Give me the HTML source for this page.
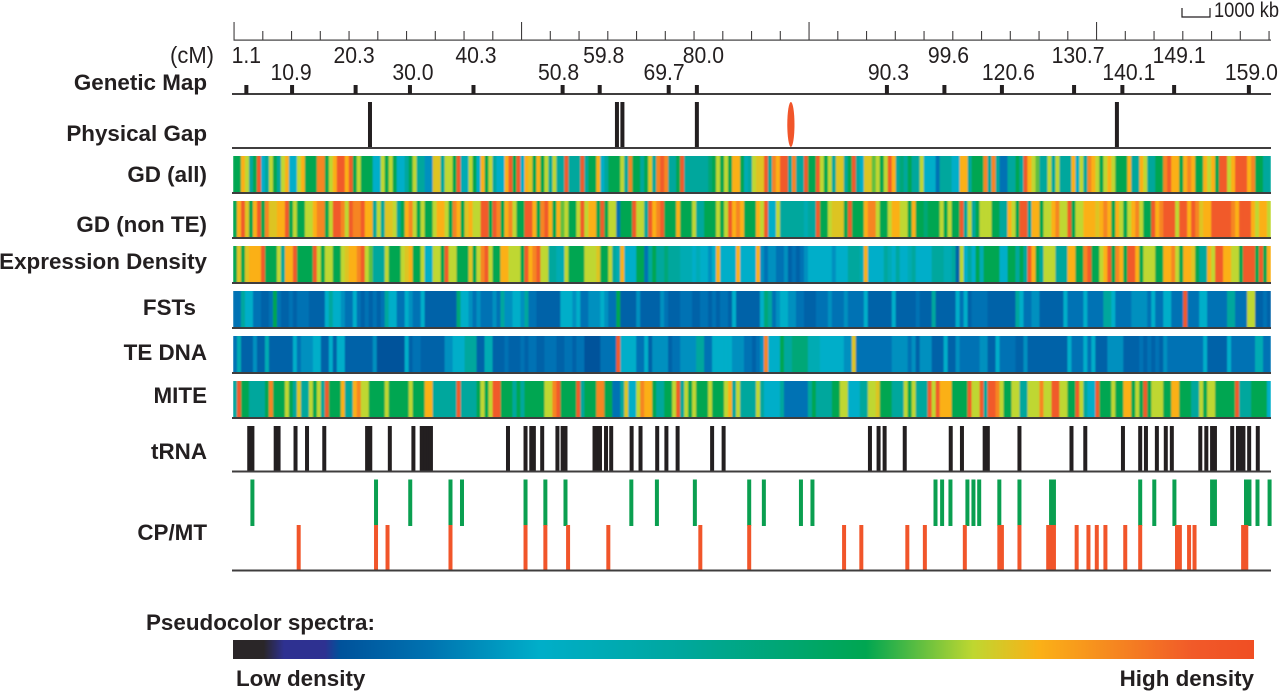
<!DOCTYPE html>
<html lang="en">
<head>
<meta charset="utf-8">
<title>Chromosome feature density map</title>
<style>
html,body{margin:0;padding:0;background:#fff;width:1280px;height:691px;overflow:hidden}
svg{display:block}
text{font-family:"Liberation Sans",Arial,sans-serif;fill:#231f20}
.track-label{font-weight:bold;font-size:22.4px;text-anchor:end}
.legend-text{font-weight:bold;font-size:22.4px}
.num{font-size:23px;text-anchor:middle}
</style>
</head>
<body>
<svg id="chart" xmlns="http://www.w3.org/2000/svg" width="1280" height="691" viewBox="0 0 1280 691">
  <defs>
    <linearGradient id="spectrum" x1="0" x2="1" y1="0" y2="0">
      <stop offset="0" stop-color="#2a2628"/>
      <stop offset="0.03" stop-color="#2a2628"/>
      <stop offset="0.05" stop-color="#2e3191"/>
      <stop offset="0.09" stop-color="#2e3191"/>
      <stop offset="0.105" stop-color="#00529b"/>
      <stop offset="0.19" stop-color="#0072b0"/>
      <stop offset="0.30" stop-color="#00aec9"/>
      <stop offset="0.44" stop-color="#00a79d"/>
      <stop offset="0.62" stop-color="#00a651"/>
      <stop offset="0.725" stop-color="#bfd730"/>
      <stop offset="0.79" stop-color="#fbb017"/>
      <stop offset="0.84" stop-color="#f7941d"/>
      <stop offset="0.94" stop-color="#f15a29"/>
      <stop offset="1" stop-color="#f04e23"/>
    </linearGradient>
    <filter id="soften" x="0" y="0" width="100%" height="100%">
      <feGaussianBlur stdDeviation="0.7 0"/>
    </filter>
  </defs>

  <g id="ruler"></g>
  <g id="scale-bar">
    <path d="M1182 8V17H1210V8" fill="none" stroke="#231f20" stroke-width="1.2"/>
    <text x="1214" y="17" font-size="21.5" textLength="65" lengthAdjust="spacingAndGlyphs">1000 kb</text>
  </g>
  <text x="214" y="63" font-size="23" text-anchor="end" textLength="44" lengthAdjust="spacingAndGlyphs">(cM)</text>

  <g id="genetic-map"></g>
  <g id="physical-gap"></g>
  <g id="heat-tracks"></g>
  <g id="trna"></g>
  <g id="cpmt"></g>

  <g>
    <text class="track-label" x="207" y="90">Genetic Map</text>
    <text class="track-label" x="207" y="141">Physical Gap</text>
    <text class="track-label" x="207" y="182">GD (all)</text>
    <text class="track-label" x="207" y="232">GD (non TE)</text>
    <text class="track-label" x="207" y="269">Expression Density</text>
    <text class="track-label" x="196" y="315">FSTs</text>
    <text class="track-label" x="207" y="360">TE DNA</text>
    <text class="track-label" x="207" y="403">MITE</text>
    <text class="track-label" x="207" y="459">tRNA</text>
    <text class="track-label" x="207" y="540">CP/MT</text>
  </g>

  <g>
    <text class="legend-text" x="146" y="630">Pseudocolor spectra:</text>
    <rect x="233" y="640" width="1021" height="19" fill="url(#spectrum)"/>
    <text class="legend-text" x="236" y="686">Low density</text>
    <text class="legend-text" x="1254" y="686" text-anchor="end">High density</text>
  </g>
</svg>

<script>
/* ---------- data: positions in Mb along the chromosome ---------- */
const rulerTicksMb = [0,1,2,3,4,5,6,7,8,9,10,11,12,13,14,15,16,17,18,19,20,21,22,23,24,25,26,27,28,29,30,31,32,33,34,35,36];
const rulerMajorMb = [0,10,20,30];

const markerLabels = ["1.1","10.9","20.3","30.0","40.3","50.8","59.8","69.7","80.0","90.3","99.6","120.6","130.7","140.1","149.1","159.0"];
const markerMb = [0.43,2.02,4.23,6.12,8.33,11.43,12.72,15.12,16.10,22.71,24.71,26.71,29.22,30.90,32.70,35.30];

const gapMb = [4.73,13.32,13.51,16.10,30.71];
const centromereMb = [19.37];

const trnaMb = [0.53,0.64,1.45,1.55,2.14,2.54,3.14,4.63,4.74,5.42,6.24,6.53,6.66,6.77,6.85,9.53,10.14,10.34,10.43,10.72,11.25,11.43,11.53,12.54,12.64,12.73,12.94,13.12,13.83,14.14,14.72,15.04,15.43,16.63,17.03,22.12,22.42,22.63,23.33,24.93,25.32,26.11,26.22,27.32,29.13,29.61,30.92,31.52,31.72,32.10,32.41,32.62,33.61,33.82,34.02,34.12,34.72,34.92,35.01,35.11,35.31,35.61];

const cpMb = [0.64,4.94,6.13,7.53,7.93,10.14,10.83,11.53,13.82,14.71,16.03,17.92,18.43,19.72,20.12,24.40,24.63,24.92,25.51,25.72,25.92,26.62,27.32,28.42,28.52,31.52,32.01,32.71,34.02,34.12,35.20,35.32,35.60,36.02];
const mtMb = [2.25,4.94,5.34,7.53,10.14,10.83,11.62,13.02,16.22,17.92,21.22,21.82,23.42,24.03,25.42,26.62,26.71,27.32,28.32,28.42,28.52,29.31,29.72,30.01,30.31,31.00,31.52,32.80,32.90,33.22,33.41,35.10,35.21];

/* ---------- data: density level per chromosome bin (0 low - 9 high) ---------- */
const gdAll = [
6,6,8,7,5,6,9,4,5,7, 6,5,7,8,4,4,7,8,6,6, 6,8.5,8.5,6,7,8,9,9,8,9, 6,7,6,6,6,4,4,7,6,7,
6,4,4,5,6,7,5,5,3.5,3.5, 7.5,7.5,5,7,7,6,9,4.5,4.5,7, 6,4,8,6,7,5,4,4,8,9, 6,9,4,8,7.5,6,8,6,7,5,
7,5,5,9,5,5,5,
9,5,6,6,8,4,5,6,6,6, 7,5,8.5,6,6,5,6,7.5,5,8.5, 9,8.5,5,5,6,9,5,5,5,5, 5,5,5.5,6,7,6,7,6,8,8,
6,4.5,5,7,7.5,7.5,9,5,8.5,8, 9,9,5,8.5,5,5,9,6,6,9, 7,6,7,5,7.5,7.5,5,6,9,5, 4,7.5,7.5,6.5,7,6,7,9,8,5,
5.5,5,6,5,5,7,4,4,
4,3,5,5,5,4,4,8,8,5, 6,6,6,8.5,5,8.5,5,3,3,5, 5,6,5,9,8,7,6.5,5,5,7, 5,7,5,5,5,8,4,7,5,8.5,
8,7,6,7,8,7,6,6,6,8, 5,5,8,7,5,5,6,6,8.5,9, 8,8,6,8,8.5,8,6,6,8,7, 8,6,9,9,7,8,9,9,9,8,
8.5,6,6,5,5];

const gdNonTe = [
6,8,9,7.5,6,8,9,6,8.5,7.5, 7.5,8,8,9,6,7,6,6,7,7, 8,8.5,8.5,6,7,9,9,8.5,7,9, 8.5,8.5,9,8,8,5,7,5,7.5,7.5,
7,5,6,8,8.5,7,6,7,6,6, 7,8,8,7,6,8.5,8,6,7.5,8, 7,7,9,9,6,9,8.5,6,8,8.5, 7,6,6,9,9,8,6,8.5,9,8,
6,8,6.5,7,6,6,7,
9,7,8,8,6,9,6,7,7,3, 6,6,6,9,7,7,5,9,8,8.5, 9,6,6,6,8,6,6,6,7,5, 5,6,6,6,7,6,7,9,8,8.5,
8,6,6,6,8,7,9,4,4,7, 5,5,5,5,5,5,4.5,5,5,9, 6,6,7,7.5,7.5,7.5,6,9,6,6, 6,8,8.5,8.5,7,6,6,7,8,8,
7,7,6,8,6,6,5.5,6,
6,6,7,6,7,6,6,9,5,7, 5,6,7,7,7,6,6,5,5,8, 7,6,9,9,5,8,8,6,7,7, 8,8.5,7,7,9,6,7,7,8,8,
8,7.5,8,8.5,8,6,8,7,6,7, 8,8.5,7,6,6,9,8,8.5,9,9, 9,7,9,9,8,9,8.5,7.5,8,8, 9,9,9,9,9,8.5,8,9,9,9,
8,7,8,8,7];

const expressionDensity = [
6,7.5,6,7.5,8,8,8,9,6,6, 6,7,5,8,8,9,6,6,6,6, 9,7,6,7,7,6,6,7,7.5,8, 8,8.5,9,7,6.5,5,5,5,7,6,
6,6,7,7.5,8,6,6,7,4,4, 7,7,6,9,7,7,6,6,6,7.5, 6,7,8.5,9,7,6,6,8,8,7, 7,7,6,9,8,8.5,9,7,7,5,
5,4.5,4.5,7,6,6,6,
6,7,7,7,7.5,6,6,7,5,4.5, 8,4,4,4,6,6,3,5,6,5, 5,5.5,5,5,5,4.5,4.5,4.5,4,4.5, 4,4,3.5,4,8,4,4,4,4,8,
4,4,4,4,8,3.5,3,3.5,3.5,3, 3,3.5,2.5,3,2.5,3,3.5,4,4,4, 4,4,4,3.5,4,4,4,5,5,5, 4.5,8,4,4,4,4,5,4.5,4,5,
4,4,4.5,5,4,4,4,4,
5,5,5,4.5,4.5,5,2.5,7,4,5, 4,6,4.5,6,6,6,6,4,4,6, 6,5,6,5,9,8,6,5,7,7, 7,5,5,5,8,8,6,6,8.5,9,
6,6,7,8,9,6,8.5,8,6,9, 9,8,6,7,7,7,6,6,8,8, 8.5,7,6,8,8,7.5,6,5,5,8, 7,9,9,8,8,7,7,6,9,9,
9,6,9,6,8];

const fsts = [
3,3,5,4,4,3,3,2.5,2.5,3, 6,3,2.5,2.5,3,2.5,3,3,3,2.5, 2.5,2.5,2.5,4,5,4,4,3.5,3,3, 4,3,2.5,3,2.5,3,2.5,3,5,4,
4,3,3,4,3.5,3,3,4,2.5,2.5, 2.5,2.5,2.5,2.5,2.5,2.5,5.5,4,4,3.5, 3,3.5,3,3,3,3.5,3,5,3.5,3.5, 4,4,3.5,5,3,3,2.5,2.5,2.5,2.5,
2.5,2.5,4,4,4,3.5,4,
3,3,3.5,3.5,3.5,4,3.5,3,3,6, 2.5,2.5,2.5,2.5,3.5,2.5,2.5,2.5,2.5,2.5, 3.5,3,2.5,2.5,2.5,3,3,3,2.5,2.5, 3,3,2.5,3,2.5,3,3,2.5,4,2.5,
2.5,2.5,2.5,2.5,2.5,4,5.5,5,3,3.5, 4,4,3.5,3.5,3,3,2.5,2.5,2.5,3, 3,3,3.5,3,3,3,3.5,3,3,3, 3,4,2.5,2.5,2.5,2.5,2.5,2.5,4,2.5,
2.5,2.5,2.5,2.5,3,2.5,2.5,2.5,
5,2.5,2.5,2.5,2.5,2.5,4,3,4,2.5, 3,3,3,3,2.5,2.5,2.5,2.5,2.5,2.5, 2.5,5,4,3,3,3.5,3.5,2.5,2.5,2.5, 2.5,2.5,2.5,4,3,3,3,3,4,3,
3,3,3,5,5,4,3,3,3,3, 3.5,3.5,3.5,3.5,3,4,3,3,4,4, 3,3,3,9,3,3,3,4,4,3, 3,3,3,3,5,5,3,3,3,7,
7,2.5,2.5,3,2.5];

const teDna = [
3,4.5,2.5,2.5,2.5,3.5,2.5,2.5,4.5,2.5, 2.5,2.5,2.5,2.5,2.5,4,3,3.5,3.5,3.5, 4,4,2.5,2.5,4,2.5,4,4,2.5,2.5, 2.5,2.5,2.5,2.5,2.5,3.5,2,2,2,2,
2,2,2,4,2.5,3,3,2.5,2.5,2.5, 2.5,2.5,2.5,3.5,3.5,4,4,4,5,5, 5,2.5,2.5,4.5,4.5,2.5,2.5,2.5,3,2.5, 2.5,2.5,3,2.5,3,3,2.5,2.5,3,3,
3,2.5,2.5,3,3,2.5,3,
3,2,2,2,2,3,3,3,3,9, 4,4,4,4,3,3,4,2.5,3.5,3.5, 3.5,3.5,2.5,3,3,3.5,3.5,3.5,3.5,5, 5,3,3,4,4,4,4,4,3.5,3.5,
3.5,3,3,2.5,3,3.5,8.5,4,4,4, 6,5,5,5.5,5.5,5.5,5.5,4.5,4.5,4.5, 4,4,4,4,4,4,3.5,3.5,7.5,3, 3,3,3,3,3,3,3,3,3.5,3.5,
3.5,3.5,3,3.5,2.5,3.5,3.5,3.5,
2.5,2.5,2.5,4,2.5,2.5,3.5,3,3,3, 3,3,3.5,3.5,2.5,2.5,4,3,3,3, 3,2.5,2.5,3.5,2.5,2.5,2.5,2.5,2.5,2.5, 2.5,2.5,2.5,2.5,4,3,3,3,4,3,
4,2.5,2.5,2.5,3.5,3.5,3.5,3.5,2.5,2.5, 2.5,2.5,3,2.5,3,2.5,3,2.5,3.5,3, 3,3,3,3,3,3,3,3,4,2.5, 2.5,2.5,2.5,2.5,4,3,3,3,3,3,
3,4.5,4.5,3,3];

const mite = [
5,9,6,6,5,5,5,5,6,8.5, 6,6,6,7,6,5,7.5,5,5,7, 6,7,5,9,6,6,6,8,5,5, 8,8.5,7,7,6,6,6,6,7,6,
6,6,6,6,7,6,6,6,8,8, 5,5,5,5,5,5,9,5,5,5, 5,6,7,6,7,9,9,6,6,6, 5,6,5,6,6,6,6,6,7,7,
8.5,9,6,6,6,6,9,
5,6,6,6,8.5,8.5,6,6,3,3, 5,7.5,4,4,7,8.5,8,8,6,5, 5,6,6,7,9,5,7,6,7,6, 6,6,7,6,6,6,7,8,5,7,
5,5,5,5,7,5,4,4,4,4, 5,3,3,3,3,3,3,5,6,5, 5,5,5,6,6,7,7,4,4,4, 5,5,7,7,7.5,6,6,6,5,5,
5,7,6,7,5,5,5,9,
7,9,8,8,8,6,6,6,6,9, 7,7,9,5,9,9,8.5,7,6,6, 7,7,5,5,7,7,7,8.5,7,7, 9,9,7,7,6,6,9,7,5,4,
4,9,6,6,6,7,6,6,8,8, 6,7,6,9,6,7,7,7,6,6, 8,8,6,6,6,5,5,7,6,7, 7,6,6,6,6,6,9,5,5,5,
6,6,6,6,4];

/* ---------- axes and colour scale ---------- */
const svgNS = 'http://www.w3.org/2000/svg';
const INK = '#231f20';
const RED = '#f1552a';
const GREEN = '#0a9f50';
const RULE = '#3f3d3e';
const LEFT = 232, RIGHT = 1271;

function xMb(mb){ return 234 + mb * 28.75; }
function xBin(i, n){ return 233 + i * (1038 / n); }

const levelColors = [[42,38,40],[46,49,145],[0,82,155],[0,114,180],[0,174,201],[0,167,157],[0,166,81],[191,215,48],[251,176,23],[241,90,41]];
function colorOf(level){
  const v = Math.max(0, Math.min(9, level));
  const a = Math.floor(v), b = Math.min(9, a + 1), t = v - a;
  const c = levelColors[a].map((p, k) => Math.round(p + (levelColors[b][k] - p) * t));
  return 'rgb(' + c.join(',') + ')';
}

function rect(parent, x, y, w, h, fill, name){
  const el = document.createElementNS(svgNS, 'rect');
  el.setAttribute('x', x);
  el.setAttribute('y', y);
  el.setAttribute('width', w);
  el.setAttribute('height', h);
  el.setAttribute('fill', fill);
  
  
  parent.appendChild(el);
  return el;
}
function baseline(parent, y, name){
  return rect(parent, LEFT, y, RIGHT - LEFT, 2, RULE, name);
}

/* ruler */
(function(){
  const g = document.getElementById('ruler');
  rect(g, 233.5, 39.5, RIGHT - 233.5, 1.2, RULE, 'ruler-axis-line');
  rulerTicksMb.forEach(function(mb){
    const major = rulerMajorMb.indexOf(mb) >= 0;
    const top = major ? 22 : 31;
    rect(g, xMb(mb) - 0.5, top, 1.1, 40 - top, RULE, major ? 'ruler-major-tick' : 'ruler-minor-tick');
  });
})();

/* genetic map */
(function(){
  const g = document.getElementById('genetic-map');
  const labelNudge = [0,-1,-1.5,3,2.5,-4,4,-4.6,6.5,1.5,4,6.5,4,6.5,5,2.5];
  baseline(g, 93, 'genetic-map-baseline');
  markerMb.forEach(function(mb, i){
    rect(g, xMb(mb) - 2, 85, 4, 9, INK, 'genetic-marker');
    const t = document.createElementNS(svgNS, 'text');
    t.setAttribute('class', 'num');
    t.setAttribute('x', xMb(mb) + (labelNudge[i] || 0));
    t.setAttribute('y', i % 2 === 0 ? 63 : 80);
    
    
    t.textContent = markerLabels[i];
    g.appendChild(t);
    t.setAttribute('textLength', (t.getComputedTextLength() * 0.92).toFixed(1));
    t.setAttribute('lengthAdjust', 'spacingAndGlyphs');
  });
})();

/* physical gaps and centromere */
(function(){
  const g = document.getElementById('physical-gap');
  baseline(g, 147, 'physical-gap-baseline');
  gapMb.forEach(function(mb){
    rect(g, xMb(mb) - 2, 102, 4, 45, INK, 'physical-gap-bar');
  });
  centromereMb.forEach(function(mb){
    const e = document.createElementNS(svgNS, 'ellipse');
    e.setAttribute('cx', xMb(mb));
    e.setAttribute('cy', 124.5);
    e.setAttribute('rx', 3.6);
    e.setAttribute('ry', 22.5);
    e.setAttribute('fill', RED);
    
    
    g.appendChild(e);
  });
})();

/* heat tracks */
(function(){
  const g = document.getElementById('heat-tracks');
  const tracks = [
    {values: gdAll, top: 156, name: 'gd-all'},
    {values: gdNonTe, top: 201, name: 'gd-non-te'},
    {values: expressionDensity, top: 246, name: 'expression-density'},
    {values: fsts, top: 291, name: 'fsts'},
    {values: teDna, top: 336, name: 'te-dna'},
    {values: mite, top: 381, name: 'mite'}
  ];
  tracks.forEach(function(t){
    const n = t.values.length;
    const band = document.createElementNS(svgNS, 'g');
    band.setAttribute('filter', 'url(#soften)');
    
    
    g.appendChild(band);
    t.values.forEach(function(v, i){
      const x = xBin(i, n);
      const w = xBin(i + 1, n) - x + (i < n - 1 ? 0.4 : 0);
      rect(band, x, t.top, w, 36.5, colorOf(v), t.name + '-cell');
    });
    baseline(g, t.top + 36, t.name + '-baseline');
  });
})();

/* tRNA */
(function(){
  const g = document.getElementById('trna');
  trnaMb.forEach(function(mb){
    rect(g, xMb(mb) - 2, 426, 4, 45, INK, 'trna-locus');
  });
  baseline(g, 470.5, 'trna-baseline');
})();

/* CP / MT */
(function(){
  const g = document.getElementById('cpmt');
  cpMb.forEach(function(mb){
    rect(g, xMb(mb) - 2, 479.5, 4, 46.5, GREEN, 'cp-insertion');
  });
  mtMb.forEach(function(mb){
    rect(g, xMb(mb) - 2, 525, 4, 45, RED, 'mt-insertion');
  });
  baseline(g, 569.5, 'cp-mt-baseline');
})();
</script>
</body>
</html>
